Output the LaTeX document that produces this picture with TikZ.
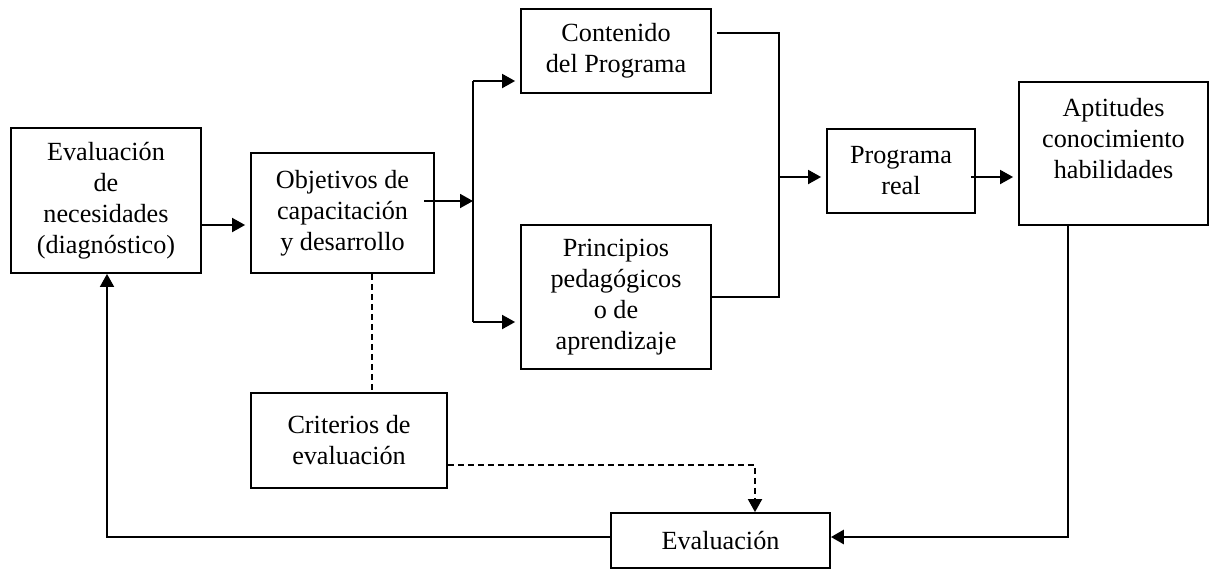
\documentclass[tikz,border=0pt]{standalone}
\usepackage{fontspec}
\setmainfont{Liberation Serif}
\usepackage{tikz}
\usetikzlibrary{arrows.meta, shapes}

\begin{document}
\begin{tikzpicture}[x=0.5pt, y=-0.5pt, line width=0.9pt,
  caja/.style={draw, align=center, inner sep=0pt, font=\fontsize{13.1pt}{15.5pt}\selectfont},
  flecha/.style={-{Triangle[length=6.5pt, width=7pt]}},
  hueco/.style={shorten >=2.5pt}]
\useasboundingbox (0,0) rectangle (1210,570);
\node[caja, minimum width=95pt,  minimum height=72.5pt] (necesidades) at (106,200.5) {Evaluación\\de\\necesidades\\(diagnóstico)};
\node[caja, minimum width=91.5pt, minimum height=60pt]  (objetivos)   at (342.5,213) {Objetivos de\\capacitación\\y desarrollo};
\node[caja, minimum width=95pt,  minimum height=42pt]   (contenido)   at (616,51) {Contenido\\del Programa};
\node[caja, minimum width=95pt,  minimum height=72pt]   (principios)  at (616,297) {Principios\\pedagógicos\\o de\\aprendizaje};
\node[caja, minimum width=74pt,  minimum height=42pt]   (programa)    at (901,171) {Programa\\real};
\node[caja, minimum width=94.5pt, minimum height=71.5pt] (aptitudes)  at (1113.5,153.5) {Aptitudes\\conocimiento\\habilidades\\\mbox{}};
\node[caja, minimum width=98pt,  minimum height=47.5pt] (criterios)   at (349,440.5) {Criterios de\\evaluación};
\node[caja, minimum width=109.5pt, minimum height=27.5pt] (evaluacion) at (720.5,540.5) {Evaluación};
\coordinate (f1) at (0,225);
\coordinate (s1) at (424,201);
\coordinate (r0) at (473,201);
\coordinate (r1) at (473,81);
\coordinate (r2) at (473,322);
\coordinate (u1) at (779,33);
\coordinate (u2) at (779,297);
\coordinate (u3) at (779,177);
\coordinate (s2) at (971,177);
\coordinate (v1) at (1068,537);
\coordinate (v2) at (975,537);
\coordinate (w1) at (107,537);
\coordinate (d0) at (372,0);
\coordinate (d1) at (755,465);
\draw[flecha, hueco] (necesidades.east |- f1) -- (objetivos.west |- f1);
\draw[flecha] (s1) -- (r0);
\draw (r1) -- (r2);
\draw[flecha, hueco] (r1) -- (contenido.west |- r1);
\draw[flecha, hueco] (r2) -- (principios.west |- r2);
\draw ([xshift=2.5pt]contenido.east |- u1) -- (u1) -- (u2) -- (principios.east |- u2);
\draw[flecha, hueco] (u3) -- (programa.west |- u3);
\draw[flecha, hueco] (s2) -- (aptitudes.west |- s2);
\draw (aptitudes.south -| v1) -- (v1) -- (v2);
\draw[flecha, line width=1.4pt] (v2) -- (evaluacion.east |- v2);
\draw[flecha] (evaluacion.west |- w1) -- (w1) -- (necesidades.south -| w1);
\draw[dash pattern=on 3pt off 2pt] (objetivos.south -| d0) -- (criterios.north -| d0);
\draw[flecha, dash pattern=on 3pt off 2pt] (criterios.east |- d1) -- (d1) -- (evaluacion.north -| d1);
\end{tikzpicture}
\end{document}
